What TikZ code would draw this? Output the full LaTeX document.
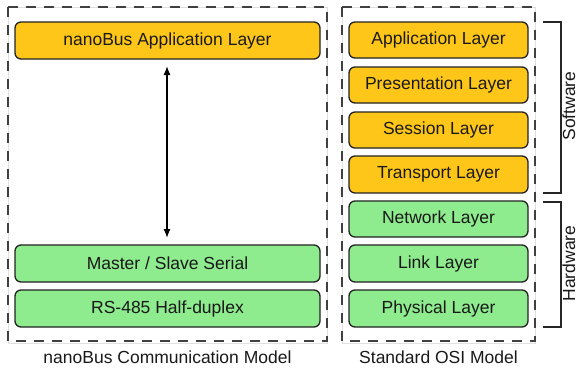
\documentclass[tikz,border=0pt]{standalone}
\usepackage{fontspec}
\setmainfont{Liberation Sans}
\usetikzlibrary{arrows.meta}
\definecolor{layyellow}{HTML}{FFC61A}
\definecolor{laygreen}{HTML}{8EEB8E}
\definecolor{edge}{HTML}{222222}
\tikzset{
  layer/.style={draw=edge, line width=1.3pt, rounded corners=6pt, inner sep=0pt},
  sw/.style={layer, fill=layyellow},
  hw/.style={layer, fill=laygreen},
  frame/.style={draw=black!75, line width=1.8pt, dash pattern=on 10pt off 8pt},
  brace/.style={draw=black!85, line width=1.5pt},
  lbl/.style={font=\fontsize{17.5}{20}\selectfont, text=black!90},
  side/.style={lbl, rotate=90, inner sep=0pt, anchor=base},
}
\begin{document}
\begin{tikzpicture}[x=1pt,y=-1pt]
\useasboundingbox (0,0) rectangle (579,372);
% frames
\draw[black!12, line width=0.8pt] (8,7) rectangle (327,343);
\draw[black!12, line width=0.8pt] (342,7) rectangle (535,343);
\draw[frame] (8,7) rectangle (327,341);
\draw[frame] (342,7) rectangle (535,341);
% left stack
\path[sw] (15,22) rectangle (320,59);
\node[lbl] (napp) at (167.5,40.5) {nanoBus Application Layer};
\path[hw] (15,245) rectangle (320,282);
\node[lbl] (ms) at (167.5,263.5) {Master / Slave Serial};
\path[hw] (15,290) rectangle (320,327);
\node[lbl] (rs) at (167.5,308.5) {RS-485 Half-duplex};
\coordinate (atop) at (167,66);
\coordinate (abot) at (167,238);
\draw[line width=1.3pt, {Latex[length=9pt,width=7pt]}-{Latex[length=9pt,width=7pt]}] (atop) -- (abot);
% right stack
\path[sw] (349,22) rectangle (528,58);
\node[lbl] (app) at (438.5,40) {Application Layer};
\path[sw] (349,67) rectangle (528,103);
\node[lbl] (pres) at (438.5,85) {Presentation Layer};
\path[sw] (349,112) rectangle (528,148);
\node[lbl] (sess) at (438.5,130) {Session Layer};
\path[sw] (349,156) rectangle (528,193);
\node[lbl] (trans) at (438.5,174.5) {Transport Layer};
\path[hw] (349,201) rectangle (528,237);
\node[lbl] (net) at (438.5,219) {Network Layer};
\path[hw] (349,245) rectangle (528,282);
\node[lbl] (link) at (438.5,263.5) {Link Layer};
\path[hw] (349,290) rectangle (528,327);
\node[lbl] (phys) at (438.5,308.5) {Physical Layer};
% brackets
\draw[brace] (543,22) -- (561,22) -- (561,193) -- (543,193);
\draw[brace] (543,202) -- (561,202) -- (561,327) -- (543,327);
\node[side] (swl) at (575,106) {Software};
\node[side] (hwl) at (575,263.5) {Hardware};
% captions
\node[lbl] (capl) at (167.5,357) {nanoBus Communication Model};
\node[lbl] (capr) at (438.5,357) {Standard OSI Model};
\end{tikzpicture}
\end{document}
